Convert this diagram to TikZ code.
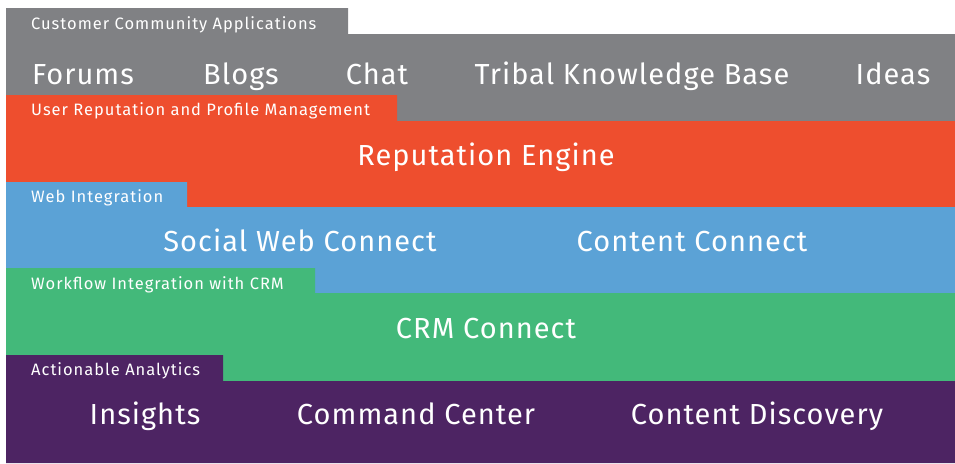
\documentclass[tikz,border=0pt]{standalone}
\usepackage{fontspec}
\setmainfont{Fira Sans}
\newfontfamily\tabfont[LetterSpace=6]{Fira Sans}
\newfontfamily\itemfont[LetterSpace=3.6]{Fira Sans}
\usetikzlibrary{positioning}

\definecolor{layergray}{RGB}{128,129,132}
\definecolor{layerorange}{RGB}{238,78,46}
\definecolor{layerblue}{RGB}{91,162,214}
\definecolor{layergreen}{RGB}{67,185,122}
\definecolor{layerpurple}{RGB}{77,36,99}

\begin{document}
\begin{tikzpicture}[x=1pt, y=-1pt]
    \tikzstyle{tablabel}=[anchor=base west, inner sep=0pt, text=white, font=\tabfont\fontsize{16.5}{18}\selectfont]
    \tikzstyle{itemlabel}=[anchor=base, inner sep=0pt, text=white, font=\itemfont\fontsize{29}{32}\selectfont]

    \useasboundingbox (0,0) rectangle (955,463);

    % Ebenen: Reiter oben links, danach das breite Band
    \fill[layergray]   (6,8)   -- (348,8)   -- (348,34)  -- (955,34)  -- (955,121) -- (6,121) -- cycle;
    \fill[layerorange] (6,95)  -- (397,95)  -- (397,121) -- (955,121) -- (955,207) -- (6,207) -- cycle;
    \fill[layerblue]   (6,182) -- (187,182) -- (187,207) -- (955,207) -- (955,293) -- (6,293) -- cycle;
    \fill[layergreen]  (6,268) -- (315,268) -- (315,293) -- (955,293) -- (955,381) -- (6,381) -- cycle;
    \fill[layerpurple] (6,355) -- (223,355) -- (223,381) -- (955,381) -- (955,463) -- (6,463) -- cycle;

    % Reiter
    \node[tablabel] (tabapps)  at (31,29)  {Customer Community Applications};
    \node[tablabel] (tabrep)   at (31,115) {User Reputation and Profile Management};
    \node[tablabel] (tabweb)   at (31,202) {Web Integration};
    \node[tablabel] (tabcrm)   at (31,289) {Workflow Integration with CRM};
    \node[tablabel] (tabanaly) at (31,375) {Actionable Analytics};

    % Anwendungen
    \node[itemlabel] (forums) at (83,84.5)  {Forums};
    \node[itemlabel] (blogs)  at (241,84.5) {Blogs};
    \node[itemlabel] (chat)   at (377,84.5) {Chat};
    \node[itemlabel] (tkb)    at (632,84.5) {Tribal Knowledge Base};
    \node[itemlabel] (ideas)  at (893,84.5) {Ideas};

    \node[itemlabel] (repeng) at (486,165.5) {Reputation Engine};

    \node[itemlabel] (swc) at (300,251.5) {Social Web Connect};
    \node[itemlabel] (cc)  at (692,251.5) {Content Connect};

    \node[itemlabel] (crm) at (486,338.5) {CRM Connect};

    \node[itemlabel] (insights) at (145,424.5) {Insights};
    \node[itemlabel] (cmdctr)   at (416,424.5) {Command Center};
    \node[itemlabel] (cdisc)    at (757,424.5) {Content Discovery};
\end{tikzpicture}
\end{document}
